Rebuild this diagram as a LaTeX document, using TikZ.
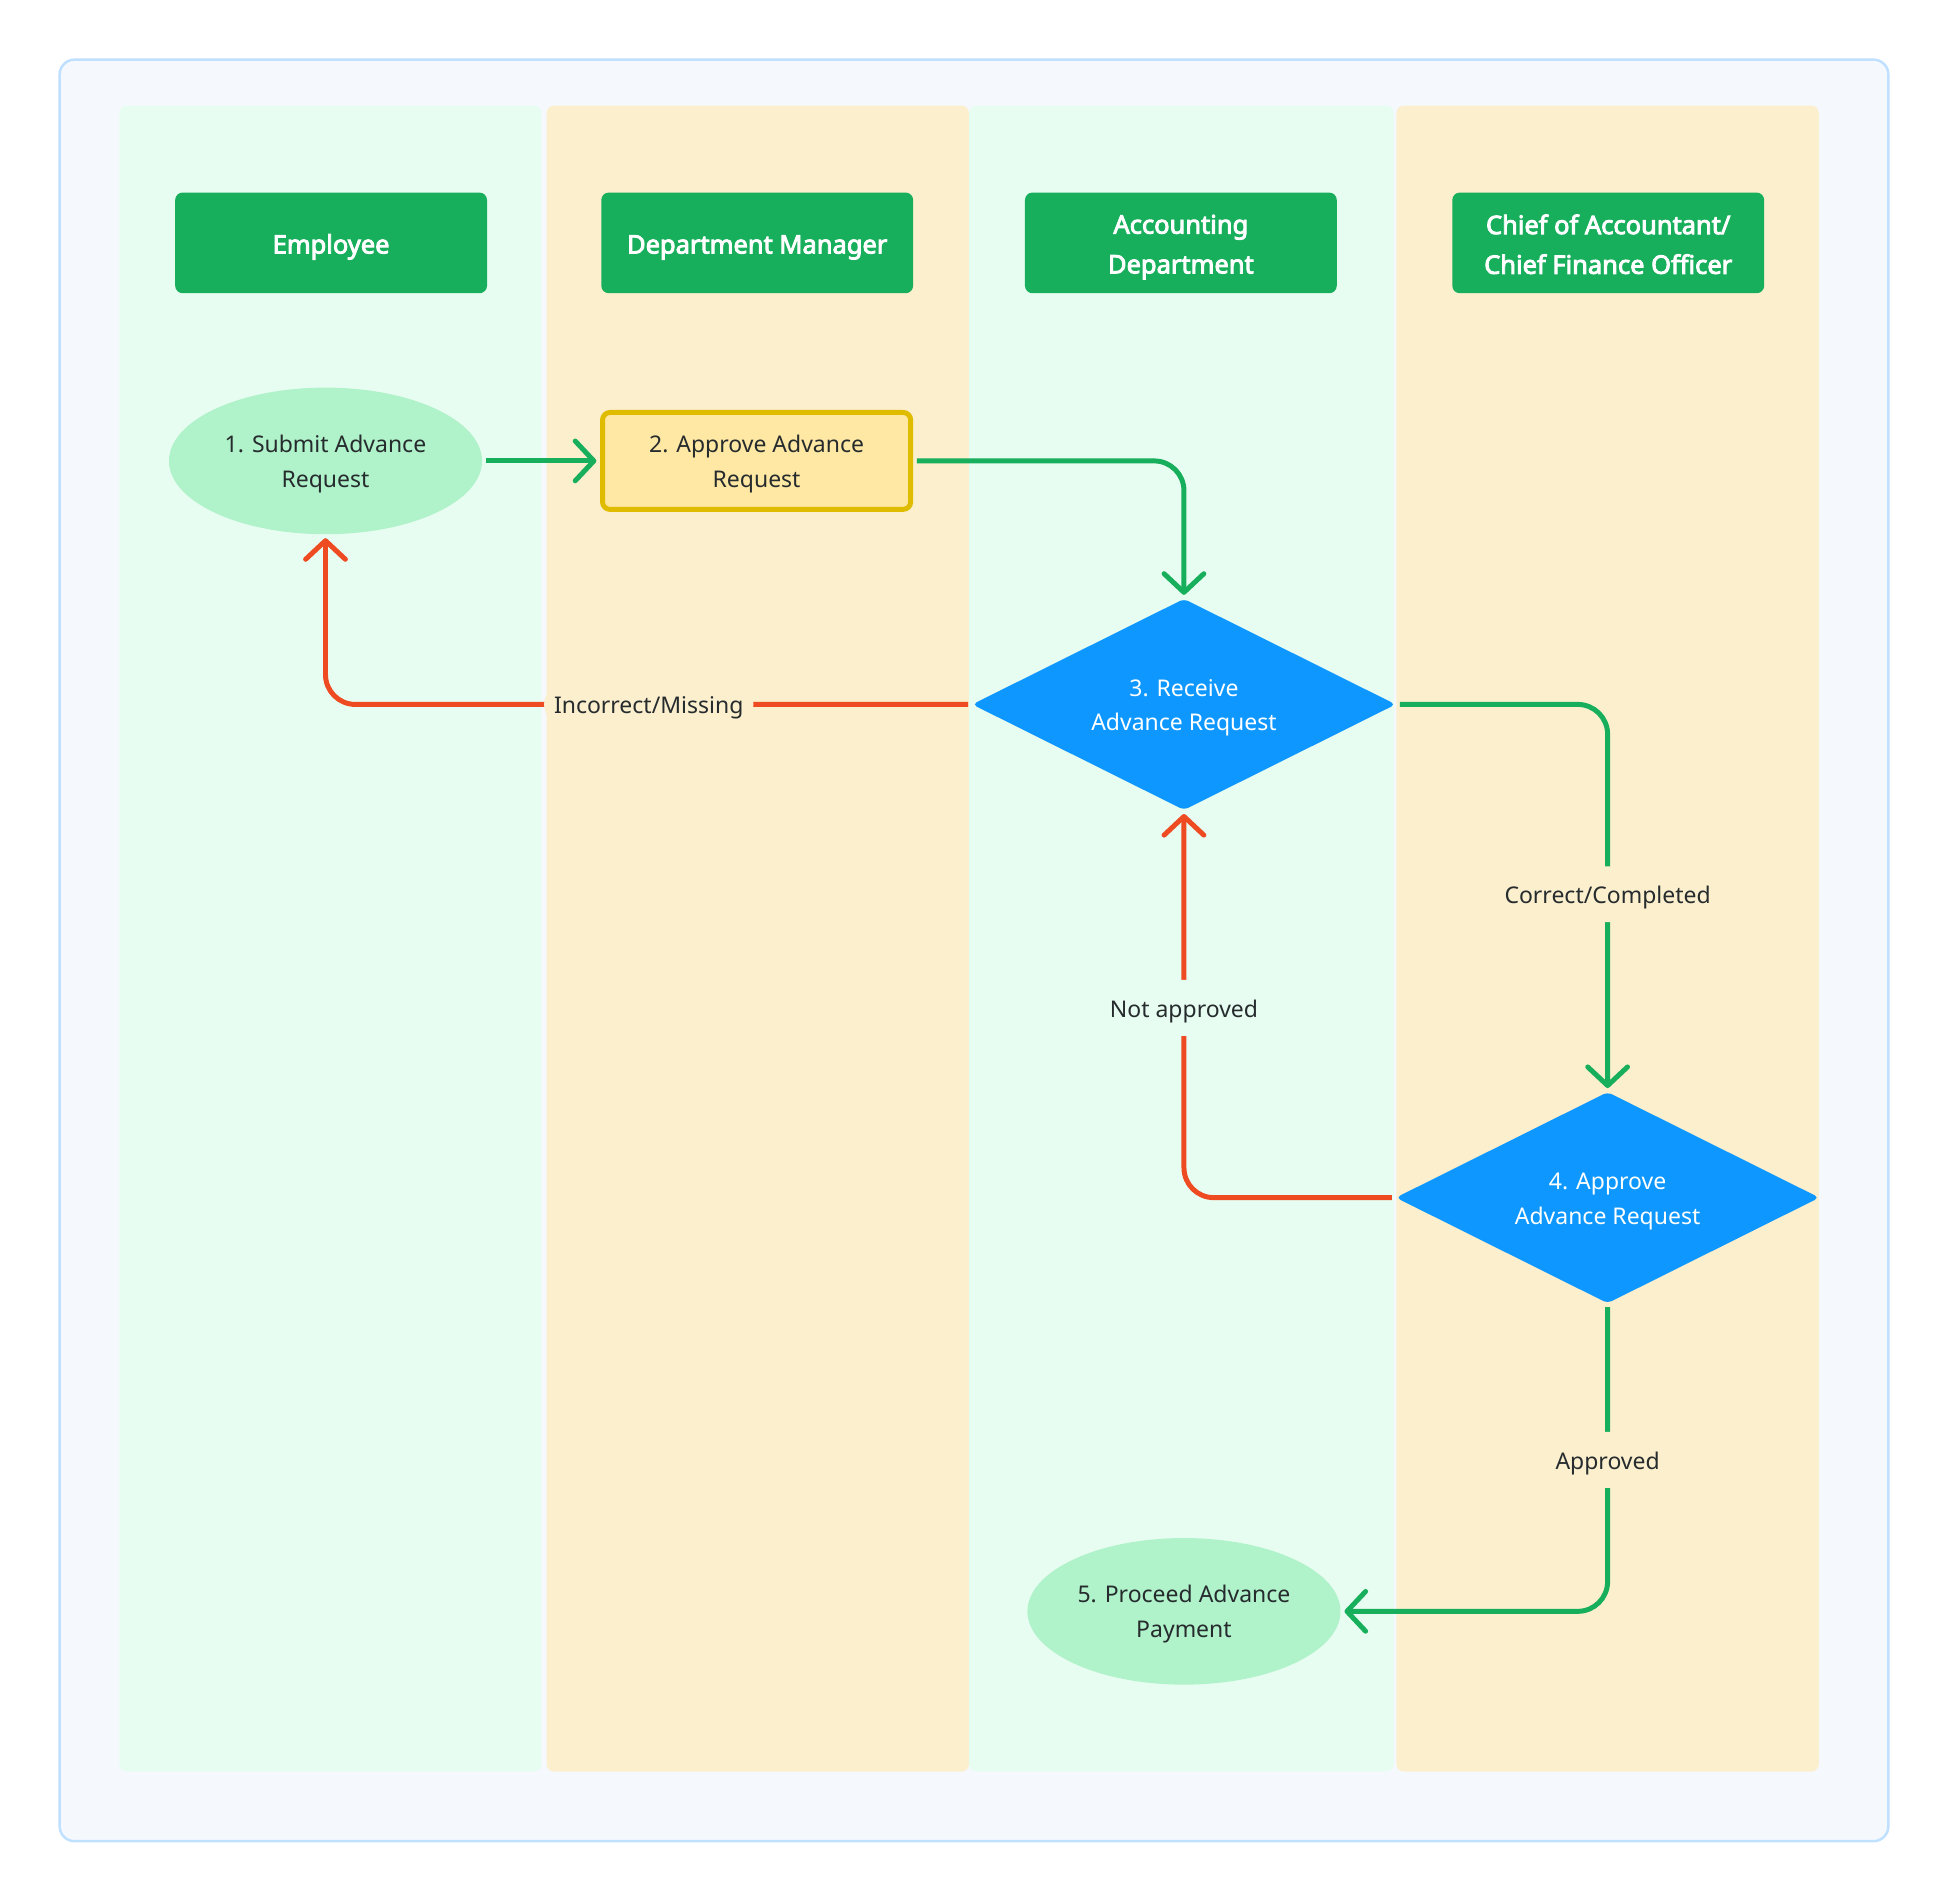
\documentclass[tikz,border=0pt]{standalone}
\usepackage{fontspec}
\setmainfont{Noto Sans}
\newfontfamily\hdrfont{Noto Sans}[FakeBold=3.5]
\usetikzlibrary{shapes.geometric,arrows.meta}
\definecolor{framebg}{HTML}{F5F9FE}
\definecolor{frameline}{HTML}{BFE0FF}
\definecolor{mint}{HTML}{E8FDF1}
\definecolor{cream}{HTML}{FBEFCD}
\definecolor{hgreen}{HTML}{17AE5C}
\definecolor{elgreen}{HTML}{B0F2C9}
\definecolor{pyellow}{HTML}{FFE8A3}
\definecolor{pborder}{HTML}{DFBC00}
\definecolor{dblue}{HTML}{0E98FF}
\definecolor{cred}{HTML}{EE4B23}
\definecolor{txt}{HTML}{262B2E}
\newcommand{\tstrut}{\rule{0pt}{19pt}}
\newcommand{\hstrut}{\rule{0pt}{22pt}}
\newcommand{\hstrutb}{\rule{0pt}{18pt}}
\tikzset{
  lanebox/.style={rounded corners=6pt},
  hdr/.style={fill=hgreen, rounded corners=6pt, minimum width=251pt, minimum height=81pt,
    text=white, font=\hdrfont\fontsize{20.5}{32}\selectfont, align=center, inner sep=0pt},
  bodyfont/.style={font=\fontsize{18.5}{28}\selectfont},
  term/.style={ellipse, fill=elgreen, minimum width=252pt, minimum height=118pt, inner sep=0pt,
    align=center, bodyfont, text=txt},
  proc/.style={rectangle, fill=pyellow, draw=pborder, line width=4pt, rounded corners=6pt,
    minimum width=248pt, minimum height=78pt, align=center, bodyfont, text=txt},
  dec/.style={diamond, aspect=2, fill=dblue, minimum width=341pt, minimum height=170pt,
    inner sep=0pt, rounded corners=4pt, text=white, align=center, bodyfont},
  conn/.style={line width=4pt, rounded corners=24pt, shorten <=3pt, shorten >=3pt,
    -{Straight Barb[length=15pt,width=32pt,round]}},
  gconn/.style={conn, draw=hgreen},
  rconn/.style={conn, draw=cred},
  lbl/.style={bodyfont, text=txt, inner xsep=8pt, inner ysep=11pt, text height=19pt, text depth=4pt},
}
\begin{document}
\begin{tikzpicture}[x=1pt,y=-1pt]
\useasboundingbox (0,0) rectangle (1568,1531);
\fill[white] (0,0) rectangle (1568,1531);
\draw[fill=framebg, draw=frameline, line width=2pt, rounded corners=12pt] (48,48) rectangle (1520,1482);
% lanes
\fill[mint, lanebox] (96,85) rectangle (436,1426);
\fill[cream, lanebox] (440,85) rectangle (780,1426);
\fill[mint, lanebox] (780,85) rectangle (1122,1426);
\fill[cream, lanebox] (1124,85) rectangle (1464,1426);
% headers
\node[hdr] (h1) at (266.5,195.5) {\hstrut Employee};
\node[hdr] (h2) at (609.5,195.5) {\hstrut Department Manager};
\node[hdr] (h3) at (950.5,195.5) {\hstrut Accounting\\Department};
\node[hdr] (h4) at (1294.5,195.5) {\hstrutb Chief of Accountant/\\Chief Finance Officer};
% steps
\node[term] (n1) at (262,371) {\tstrut 1. Submit Advance\\Request};
\node[proc] (n2) at (609,371) {\tstrut 2. Approve Advance\\Request};
\node[dec] (n3) at (953,567) {\tstrut 3. Receive\\Advance Request};
\node[dec] (n4) at (1294,964) {\tstrut 4. Approve\\Advance Request};
\node[term] (n5) at (953,1297) {\tstrut 5. Proceed Advance\\Payment};
% connectors
\draw[gconn] (n1.east) -- (n2.west);
\draw[gconn] (n2.east) -| (n3.north);
\draw[rconn] (n3.west) -| node[lbl, pos=0.25, fill=cream] (l1) {Incorrect/Missing} (n1.south);
\draw[gconn] (n3.east) -| node[lbl, pos=0.745, fill=cream] (l2) {Correct/Completed} (n4.north);
\draw[rconn] (n4.west) -| node[lbl, pos=0.745, fill=mint] (l3) {Not approved} (n3.south);
\draw[gconn] (n4.south) |- node[lbl, pos=0.254, fill=cream] (l4) {Approved} (n5.east);
\end{tikzpicture}
\end{document}
